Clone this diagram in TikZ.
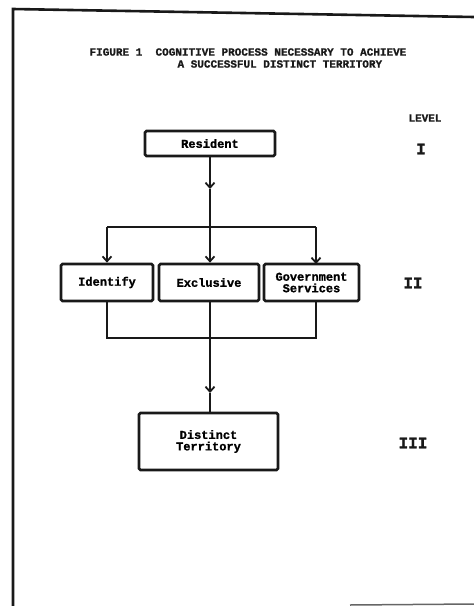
\documentclass[tikz,border=0pt]{standalone}
\usepackage{fontspec}
\setmonofont[BoldFeatures={FakeBold=1.2}]{Liberation Mono}
\usetikzlibrary{arrows.meta}
\begin{document}
\begin{tikzpicture}[x=1pt,y=-1pt,
  txt/.style={font=\ttfamily\bfseries\fontsize{11}{11.5}\selectfont, text=black!90},
  boxnode/.style={draw=black!90, line width=2.7pt, rounded corners=1.5pt, inner sep=0pt, align=center,
     font=\ttfamily\bfseries\fontsize{12}{11.5}\selectfont},
  conn/.style={draw=black!90, line width=2.3pt},
  barb/.style={conn, -{Straight Barb[length=5pt,width=9pt,line width=1.8pt]}},
  roman/.style={font=\ttfamily\bfseries\fontsize{16}{16}\selectfont, text=black!90}]
\useasboundingbox (0,0) rectangle (474,606);
% page border
\draw[black!90, line width=2.6pt] (13,606) -- (13,9) -- (474,17);
\draw[black!60, line width=1.5pt] (350,605) -- (474,604);
% title
\node[txt, anchor=west] (t1) at (86,52) {FIGURE 1\ \ COGNITIVE PROCESS NECESSARY TO ACHIEVE};
\node[txt, anchor=west] (t2) at (174,64) {A SUCCESSFUL DISTINCT TERRITORY};
% levels
\node[txt] (lev) at (425,118) {LEVEL};
\node[roman] (l1) at (421,149) {I};
\node[roman] (l2) at (413,283) {II};
\node[roman] (l3) at (413,443) {III};
% boxes
\node[boxnode, minimum width=130pt, minimum height=25pt] (res) at (210,143.5) {Resident};
\node[boxnode, minimum width=92pt, minimum height=37pt] (id) at (107,282.5) {Identify};
\node[boxnode, minimum width=100pt, minimum height=37pt] (ex) at (209,282.5) {Exclusive};
\node[boxnode, minimum width=95pt, minimum height=37pt] (gov) at (311.5,282.5) {Government\\Services};
\node[boxnode, minimum width=139pt, minimum height=57pt] (dt) at (208.5,441.5) {Distinct\\Territory};
% connectors
\coordinate (m1) at (210,189);
\coordinate (j1) at (210,227);
\coordinate (jl) at (107,227);
\coordinate (jr) at (316,227);
\coordinate (gt) at (316,264);
\coordinate (gb) at (316,301);
\coordinate (bl) at (107,338);
\coordinate (bm) at (210,338);
\coordinate (br) at (316,338);
\coordinate (m2) at (210,393);
\draw[barb] (res.south) -- (m1);
\draw[conn] (m1) -- (j1);
\draw[conn] (jl) -- (jr);
\draw[barb] (jl) -- (id.north);
\draw[barb] (j1) -- (ex.north -| j1);
\draw[barb] (jr) -- (gt);
\draw[conn] (id.south) -- (bl) -- (br) -- (gb);
\draw[conn] (ex.south -| bm) -- (bm);
\draw[barb] (bm) -- (m2);
\draw[conn] (m2) -- (dt.north -| m2);
\end{tikzpicture}
\end{document}
